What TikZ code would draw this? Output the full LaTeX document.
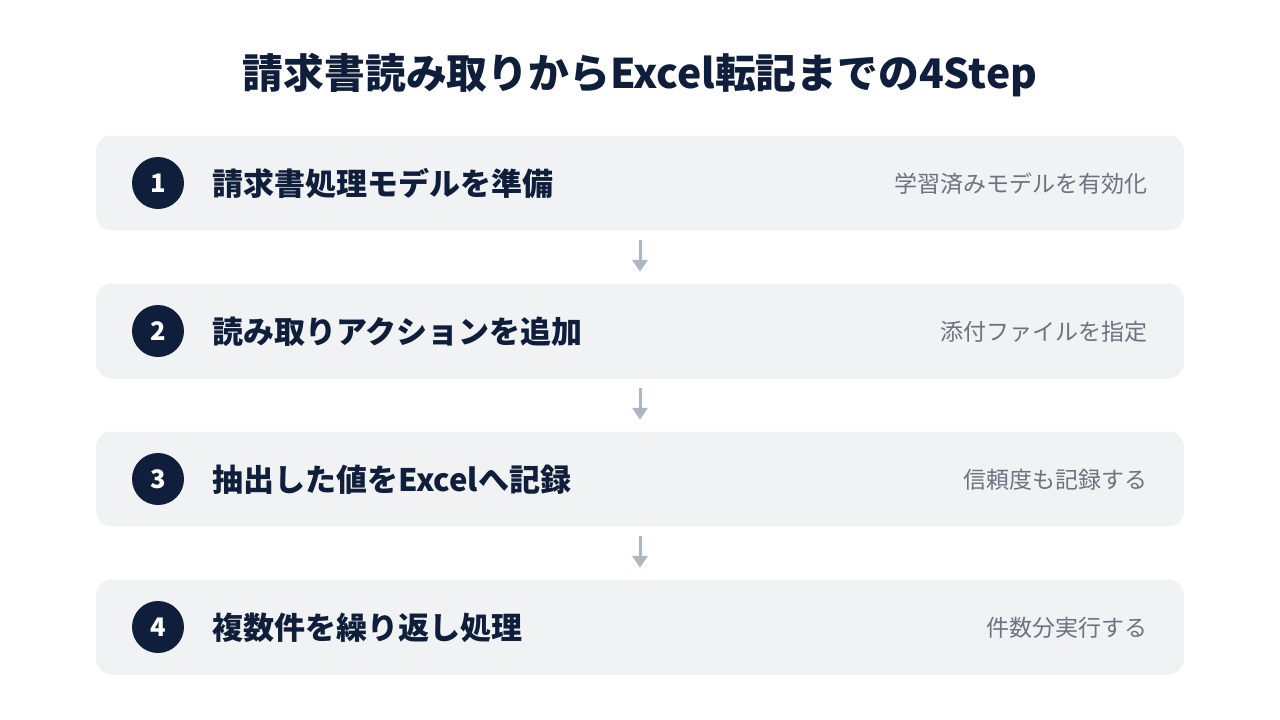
\documentclass[tikz,border=0pt]{standalone}
\usepackage{fontspec}
\setmainfont{Noto Sans CJK JP}
\usetikzlibrary{arrows.meta}
\definecolor{navy}{HTML}{0F1E3A}
\definecolor{boxgray}{HTML}{F1F2F4}
\definecolor{arrowgray}{HTML}{AEB6C3}
\definecolor{notegray}{HTML}{6B7280}
\tikzset{
  stepbox/.style={fill=boxgray, rounded corners=16pt, minimum width=1088pt, minimum height=95pt, inner sep=0pt},
  numdot/.style={circle, fill=navy, text=white, minimum size=52pt, inner sep=0pt, font=\fontsize{25.5}{28}\selectfont\bfseries},
  steptext/.style={anchor=west, inner sep=0pt, text=navy, font=\fontsize{31}{35}\selectfont\bfseries},
  notetext/.style={anchor=east, inner sep=0pt, text=notegray, font=\fontsize{23}{27}\selectfont},
  flowarrow/.style={draw=arrowgray, line width=3pt, -{Triangle[width=15pt,length=12pt]}, shorten <=9.5pt, shorten >=11.5pt}
}
\begin{document}
\begin{tikzpicture}[x=1pt, y=-1pt]
\useasboundingbox (0,0) rectangle (1280,720);
\node[text=navy, font=\fontsize{40.8}{46}\selectfont\bfseries] (title) at (640,75) {請求書読み取りからExcel転記までの4Step};

\foreach \i/\main/\sub [evaluate=\i as \y using 183+148*(\i-1)] in
  {1/請求書処理モデルを準備/学習済みモデルを有効化,
   2/読み取りアクションを追加/添付ファイルを指定,
   3/抽出した値をExcelへ記録/信頼度も記録する,
   4/複数件を繰り返し処理/件数分実行する}
{
    \node[stepbox] (box\i) at (640,\y) {};
    \node[numdot] (num\i) at (158,\y) {\i};
    \node[steptext] (main\i) at (212,\y+0.5) {\main};
    \node[notetext] (note\i) at (1148,\y+0.5) {\sub};
}

\foreach \i [evaluate=\i as \j using int(\i+1)] in {1,2,3}
{
    \draw[flowarrow] (box\i) -- (box\j);
}

\end{tikzpicture}
\end{document}
